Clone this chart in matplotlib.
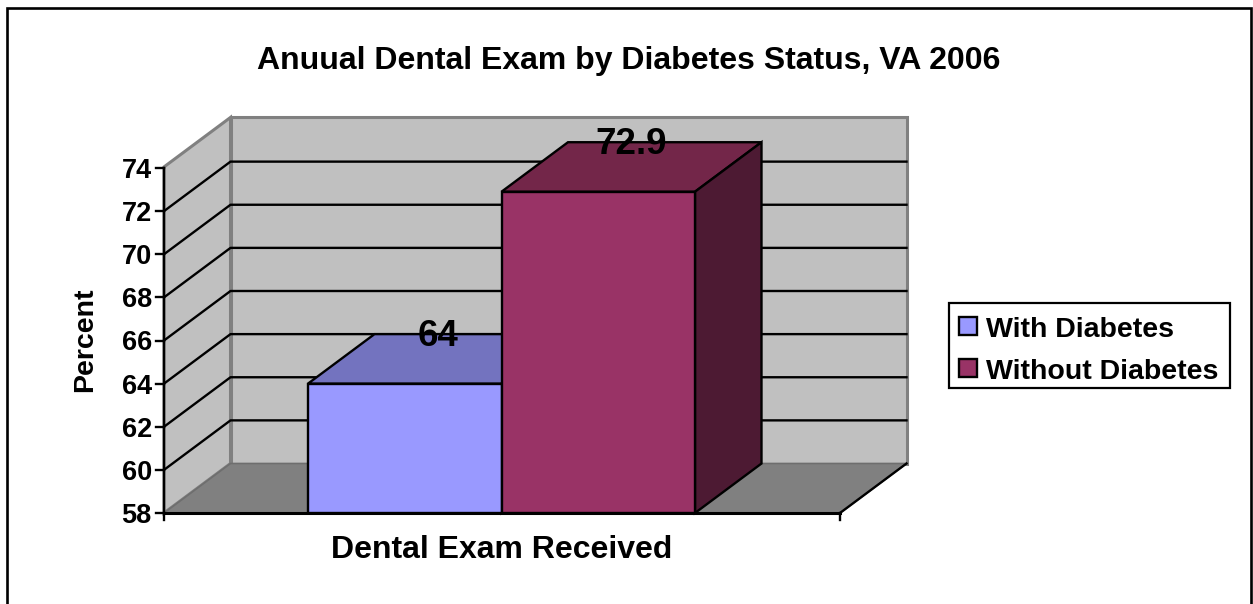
"""Anuual dental exam 3-D style column chart, drawn on a flat axes with a fixed
depth offset for the floor, walls and bar sides."""
import matplotlib
matplotlib.use("Agg")
import matplotlib.pyplot as plt
from matplotlib.patches import Polygon, Rectangle

W, H = 1253, 604

series_names = ["With Diabetes", "Without Diabetes"]
series_values = [64, 72.9]
category = "Dental Exam Received"
y_ticks = [58, 60, 62, 64, 66, 68, 70, 72, 74]
title = "Anuual Dental Exam by Diabetes Status, VA 2006"

WALL = "#C0C0C0"; FLOOR = "#808080"; WALL_EDGE = "#808080"
FRONT = ["#9999FF", "#993366"]
TOP = ["#7373BF", "#732649"]
SIDE = ["#4D4D80", "#4D1A33"]

plt.rcParams["font.family"] = ["Liberation Sans", "DejaVu Sans"]

fig = plt.figure(figsize=(W / 100, H / 100), dpi=100, facecolor="white")
# axes covers the front plane of the chart box
L, R, T, B = 164, 840, 168, 513
ax = fig.add_axes([L / W, 1 - B / H, (R - L) / W, (B - T) / H])
ax.set_xlim(0, 1)
ax.set_ylim(y_ticks[0], y_ticks[-1])
ax.axis("off")

# depth offset in axes data units
DX = 66.5 / (R - L)
DY = 49.5 / ((B - T) / (y_ticks[-1] - y_ticks[0]))
Y0 = y_ticks[0]
YTOP = y_ticks[-1] + 0.05
LW = 1.7
EDGE = dict(edgecolor="black", linewidth=LW, clip_on=False)

ax.add_patch(Polygon([(DX, Y0 + DY), (1 + DX, Y0 + DY), (1 + DX, YTOP + DY), (DX, YTOP + DY)],
                     facecolor=WALL, edgecolor=WALL_EDGE, linewidth=2.2, clip_on=False, zorder=1))
ax.add_patch(Polygon([(0, Y0), (DX, Y0 + DY), (DX, YTOP + DY), (0, YTOP)],
                     facecolor=WALL, edgecolor=WALL_EDGE, linewidth=2.2, clip_on=False, zorder=1))
ax.add_patch(Polygon([(0, Y0), (1, Y0), (1 + DX, Y0 + DY), (DX, Y0 + DY)],
                     facecolor=FLOOR, edgecolor="#6E6E6E", linewidth=1.2, clip_on=False, zorder=1))

# gridlines run along the left wall then the back wall
for t in y_ticks[1:-1]:
    ax.plot([0, DX, 1 + DX], [t, t + DY, t + DY], color="black", lw=LW, clip_on=False, zorder=2)
ax.plot([0, 1], [Y0, Y0], color="black", lw=2.2, clip_on=False, zorder=2)
ax.plot([1, 1 + DX], [Y0, Y0 + DY], color="black", lw=LW, clip_on=False, zorder=2)

# axes lines and ticks
ax.plot([0, 0], [Y0, y_ticks[-1]], color="black", lw=LW, clip_on=False, zorder=2)
for t in y_ticks:
    ax.plot([-0.012, 0], [t, t], color="black", lw=LW, clip_on=False, zorder=2)
    ax.text(-0.018, t, str(t), ha="right", va="center_baseline", fontsize=19.5, fontweight="bold")
ax.plot([0, 0], [Y0, Y0 - 0.32], color="black", lw=LW, clip_on=False, zorder=2)
ax.plot([1, 1], [Y0, Y0 - 0.32], color="black", lw=LW, clip_on=False, zorder=2)

# columns
BAR_W = 193.5 / (R - L)
BAR_X0 = (308 - L) / (R - L)
for i, v in enumerate(series_values):
    x0 = BAR_X0 + i * BAR_W
    x1 = x0 + BAR_W
    ax.add_patch(Polygon([(x0, v), (x1, v), (x1 + DX, v + DY), (x0 + DX, v + DY)],
                         facecolor=TOP[i], zorder=3, **EDGE))
    ax.add_patch(Polygon([(x1, Y0), (x1 + DX, Y0 + DY), (x1 + DX, v + DY), (x1, v)],
                         facecolor=SIDE[i], zorder=3, **EDGE))
    ax.add_patch(Rectangle((x0, Y0), BAR_W, v - Y0, facecolor=FRONT[i], zorder=4, **EDGE))
    ax.text(x0 + BAR_W / 2 + DX / 2, v + DY + 0.08, f"{v:g}", ha="center", va="center_baseline",
            fontsize=26.5, fontweight="bold", zorder=5)

# text in figure pixels
def px(x, y):
    return x / W, 1 - y / H

fig.text(*px(629, 58), title, ha="center", va="center_baseline", fontsize=23, fontweight="bold")
fig.text(*px(85, 340), "Percent", ha="center", va="center", rotation=90, fontsize=20.5, fontweight="bold")
fig.text(*px(502, 547), category, ha="center", va="center_baseline", fontsize=23, fontweight="bold")

# chart frame, open at the bottom of the picture
fig.add_artist(Rectangle(px(7, H + 4), (1251 - 7) / W, (H + 4 - 8) / H, transform=fig.transFigure,
                         facecolor="none", edgecolor="black", linewidth=1.9))

# legend box
fig.add_artist(Rectangle(px(949, 388), (1230 - 949) / W, (388 - 303) / H, transform=fig.transFigure,
                         facecolor="white", edgecolor="black", linewidth=1.6))
for i, (name, y) in enumerate(zip(series_names, [326, 368])):
    fig.add_artist(Rectangle(px(959, y + 9), 18 / W, 18 / H, transform=fig.transFigure,
                             facecolor=FRONT[i], edgecolor="black", linewidth=1.7))
    fig.text(*px(986, y + 1), name, ha="left", va="center_baseline", fontsize=20.5, fontweight="bold")

fig.savefig("out.png", dpi=100, facecolor="white")
